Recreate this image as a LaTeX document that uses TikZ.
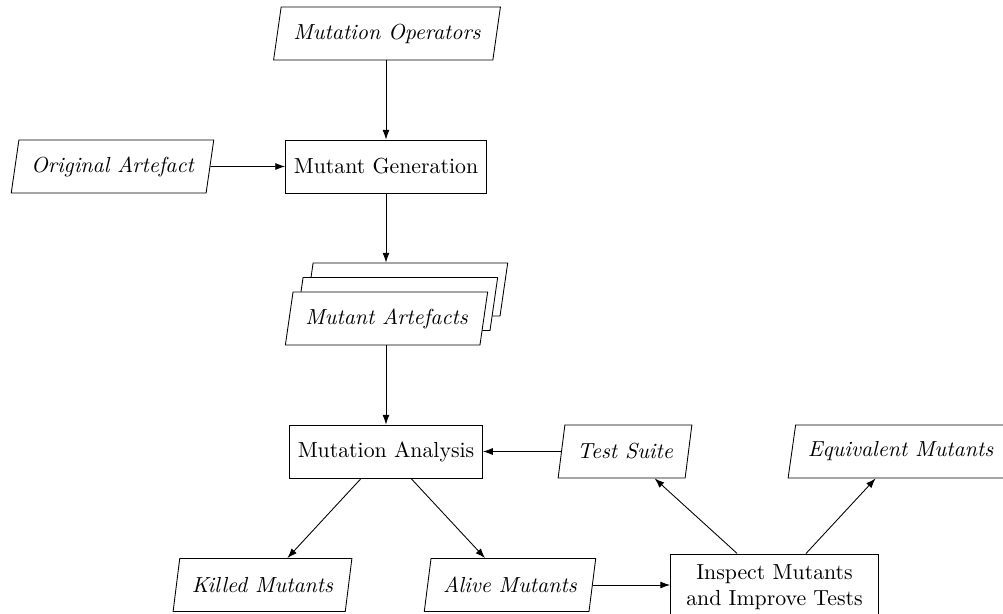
\documentclass[tikz,border=0pt]{standalone}
\usetikzlibrary{shapes.geometric,shadows,arrows.meta}
\begin{document}
\begin{tikzpicture}[x=0.4587pt,y=-0.4587pt,
  proc/.style={draw, rectangle, minimum height=24.3pt, inner xsep=3.8pt, align=center},
  data/.style={draw, trapezium, trapezium left angle=77.5, trapezium right angle=102.5,
    trapezium stretches=true, minimum height=24.3pt, inner xsep=5.6pt, font=\itshape},
  arr/.style={-{Latex[length=4.5pt,width=3.2pt]}}]
\useasboundingbox (0,0) rectangle (1003,613);

% process steps
\node[proc] (gen) at (386,166.5) {Mutant Generation};
\node[proc] (ana) at (386,451.5) {Mutation Analysis};
\node[proc, inner xsep=7.2pt, inner ysep=5pt] (insp) at (774.5,587.5) {Inspect Mutants\\and Improve Tests};

% inputs and outputs
\node[data] (ops) at (387,33.5) {Mutation Operators};
\node[data] (orig) at (112.5,166.5) {Original Artefact};
\node[data, fill=white,
  copy shadow={shadow xshift=9.2pt, shadow yshift=13.3pt, fill=white, draw=black},
  copy shadow={shadow xshift=4.6pt, shadow yshift=6.65pt, fill=white, draw=black}]
  (arte) at (386.5,318.5) {Mutant Artefacts};
\coordinate (stacktop) at ([yshift=13.3pt]arte.north);
\node[data] (suite) at (625,451.5) {Test Suite};
\node[data] (equiv) at (900.5,451.5) {Equivalent Mutants};
\node[data] (killed) at (262.5,585) {Killed Mutants};
\node[data] (alive) at (510,585) {Alive Mutants};

% flow
\draw[arr] (gen |- ops.south) -- (gen);
\draw[arr] (orig) -- (gen);
\draw[arr] (gen) -- (gen |- stacktop);
\draw[arr] (ana |- arte.south) -- (ana);
\draw[arr] (suite) -- (ana);
\draw[arr] (ana) -- (killed);
\draw[arr] (ana) -- (alive);
\draw[arr] (alive.east) -- (alive.east -| insp.west);
\draw[arr] (insp) -- (suite);
\draw[arr] (insp) -- (equiv);
\end{tikzpicture}
\end{document}
